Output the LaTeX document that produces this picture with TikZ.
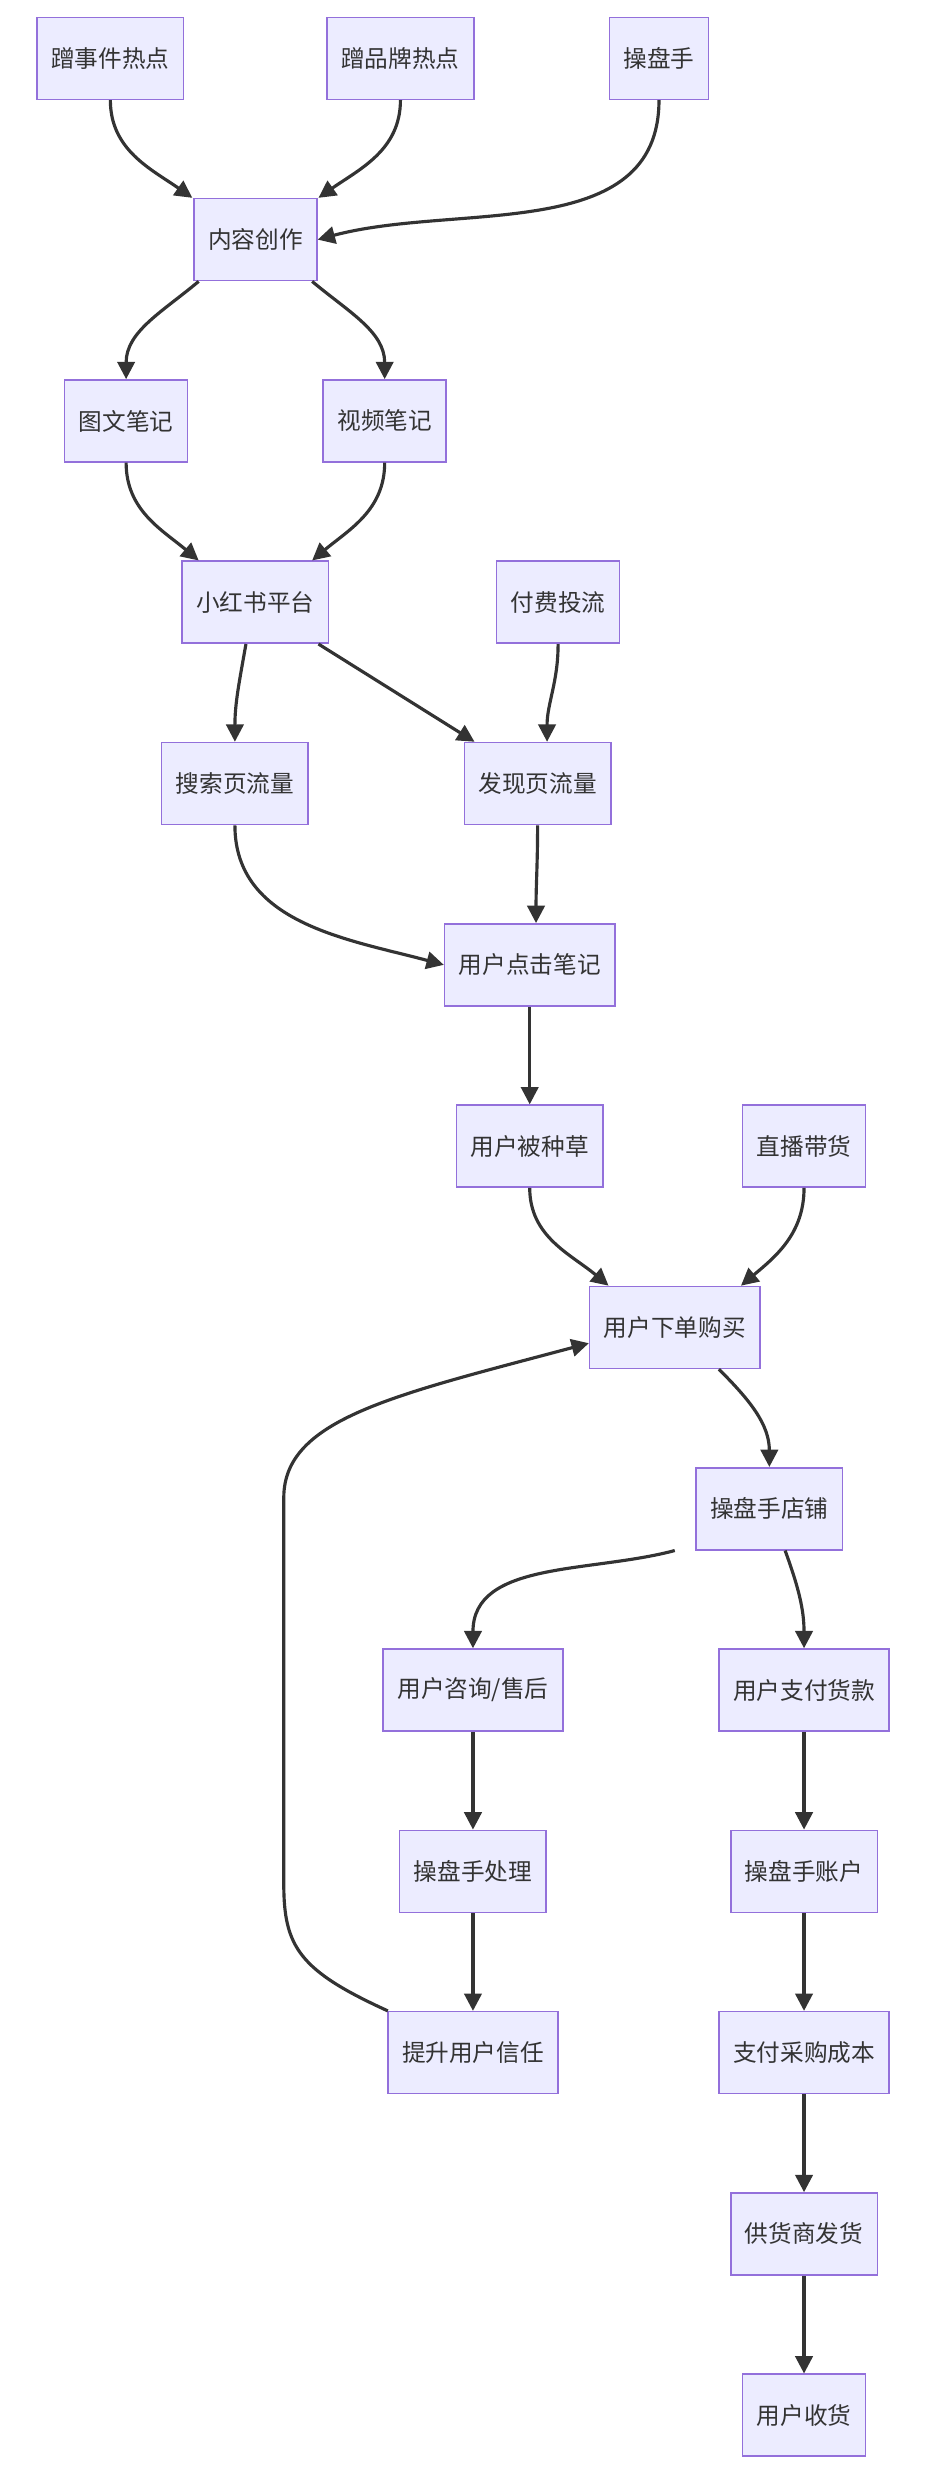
\documentclass[tikz,border=0pt]{standalone}
\usepackage{fontspec}
\setmainfont{Noto Sans CJK SC}
\usetikzlibrary{arrows.meta}
\definecolor{boxfill}{HTML}{ECECFF}
\definecolor{boxline}{HTML}{9370DB}
\definecolor{edgeline}{HTML}{333333}
\tikzset{
  box/.style={draw=boxline, fill=boxfill, line width=1pt, minimum height=52pt,
    inner xsep=9pt, font=\fontsize{15}{18}\selectfont, text=edgeline},
  flow/.style={draw=edgeline, line width=2pt, -{Triangle[length=11pt,width=11pt]}}
}
\begin{document}
\begin{tikzpicture}[x=1pt,y=-1pt]
  \useasboundingbox (0,0) rectangle (590,1568);
  % nodes
  \node[box] (eventHot) at (70,37) {蹭事件热点};
  \node[box] (brandHot) at (254,37) {蹭品牌热点};
  \node[box] (trader) at (418,37) {操盘手};
  \node[box] (create) at (162,152) {内容创作};
  \node[box] (imgNote) at (80,267) {图文笔记};
  \node[box] (vidNote) at (244,267) {视频笔记};
  \node[box] (xhs) at (162,382) {小红书平台};
  \node[box] (paid) at (354,382) {付费投流};
  \node[box] (search) at (149,497) {搜索页流量};
  \node[box] (discover) at (341,497) {发现页流量};
  \node[box] (click) at (336,612) {用户点击笔记};
  \node[box] (grass) at (336,727) {用户被种草};
  \node[box] (live) at (510,727) {直播带货};
  \node[box] (order) at (428,842) {用户下单购买};
  \node[box] (shop) at (488,957) {操盘手店铺};
  \node[box] (consult) at (300,1072) {用户咨询/售后};
  \node[box] (pay) at (510,1072) {用户支付货款};
  \node[box] (handle) at (300,1187) {操盘手处理};
  \node[box] (account) at (510,1187) {操盘手账户};
  \node[box] (trust) at (300,1302) {提升用户信任};
  \node[box] (cost) at (510,1302) {支付采购成本};
  \node[box] (ship) at (510,1417) {供货商发货};
  \node[box] (receive) at (510,1532) {用户收货};
  % edges
  \draw[flow] (eventHot.south) to[out=-90,in=145] ([xshift=-40pt]create.north);
  \draw[flow] (brandHot.south) to[out=-90,in=35] ([xshift=40pt]create.north);
  \draw[flow] (trader.south) to[out=-90,in=15] (create.east);
  \draw[flow] ([xshift=-36pt]create.south) to[out=-140,in=90] (imgNote.north);
  \draw[flow] ([xshift=36pt]create.south) to[out=-40,in=90] (vidNote.north);
  \draw[flow] (imgNote.south) to[out=-90,in=140] ([xshift=-36pt]xhs.north);
  \draw[flow] (vidNote.south) to[out=-90,in=40] ([xshift=36pt]xhs.north);
  \draw[flow] ([xshift=-6pt]xhs.south) to[out=-100,in=90] (search.north);
  \draw[flow] ([xshift=40pt]xhs.south) -- ([xshift=-40pt]discover.north);
  \draw[flow] (paid.south) to[out=-90,in=90] ([xshift=6pt]discover.north);
  \draw[flow] (search.south) to[out=-90,in=165] (click.west);
  \draw[flow] (discover.south) to[out=-90,in=90] ([xshift=4pt]click.north);
  \draw[flow] (click) -- (grass);
  \draw[flow] (grass.south) to[out=-90,in=140] ([xshift=-42pt]order.north);
  \draw[flow] (live.south) to[out=-90,in=40] ([xshift=42pt]order.north);
  \draw[flow] ([xshift=28pt]order.south) to[out=-45,in=90] (shop.north);
  \draw[flow] ([xshift=-60pt]shop.south) to[out=195,in=90] (consult.north);
  \draw[flow] ([xshift=10pt]shop.south) to[out=-70,in=90] (pay.north);
  \draw[flow] (consult) -- (handle);
  \draw[flow] (handle) -- (trust);
  \draw[flow] (pay) -- (account);
  \draw[flow] (account) -- (cost);
  \draw[flow] (cost) -- (ship);
  \draw[flow] (ship) -- (receive);
  \draw[flow] ([xshift=-54pt]trust.north) .. controls (190,1250) and (180,1235) .. (180,1195)
    -- (180,950) .. controls (180,900) and (250,885) .. ([yshift=-10pt]order.west);
\end{tikzpicture}
\end{document}
